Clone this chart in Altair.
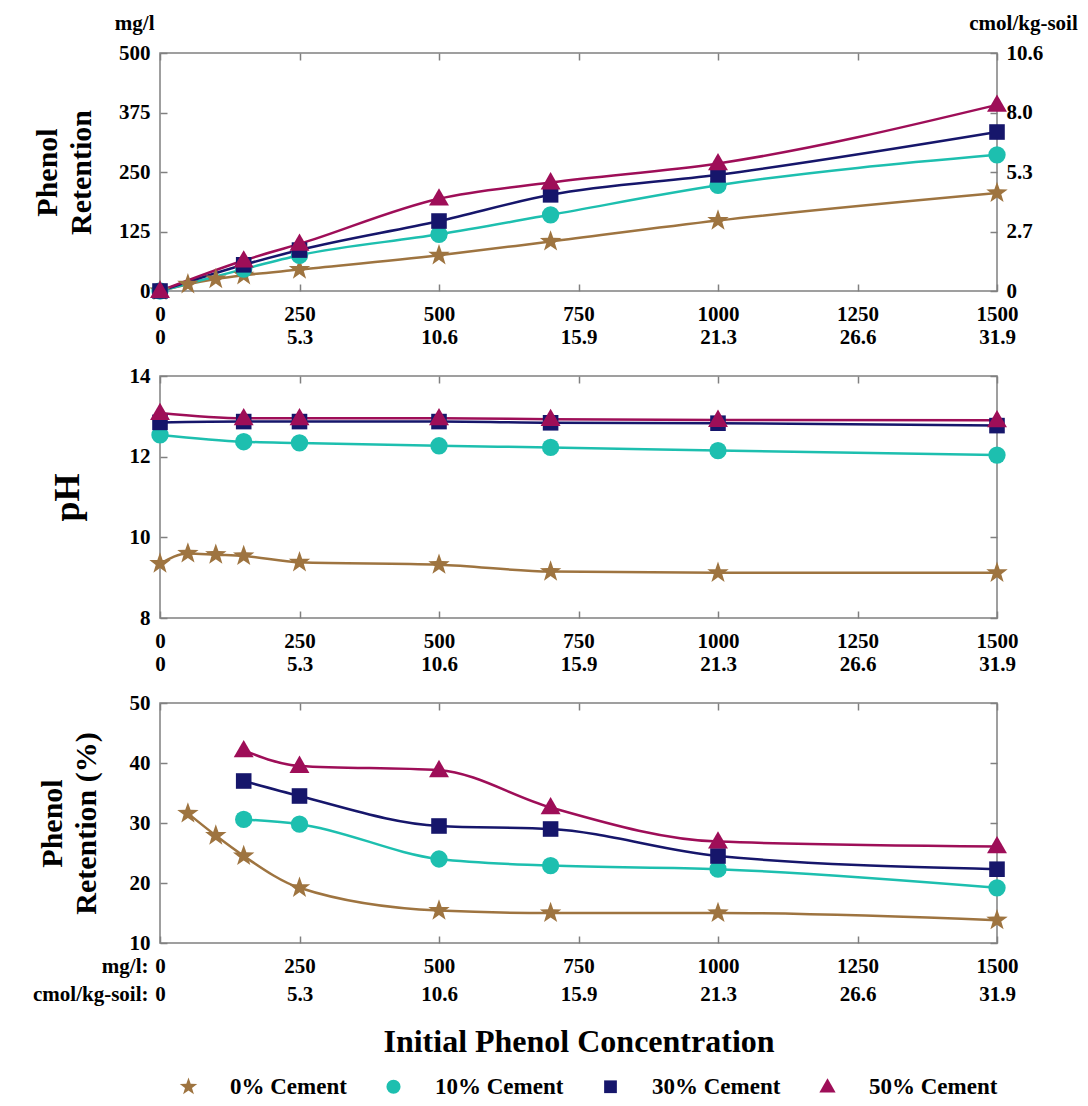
import altair as alt
import pandas as pd

# ---------------- data ----------------
series = ["0% Cement", "10% Cement", "30% Cement", "50% Cement"]
colors = ["#9E7440", "#1DBFAF", "#16166B", "#9E0E58"]
# custom symbol paths (unit box about -1..1) so every marker gets the right relative size
STAR = ("M0,-1.3L0.306,-0.421L1.236,-0.402L0.494,0.161L0.764,1.052L0,0.52"
        "L-0.764,1.052L-0.494,0.161L-1.236,-0.402L-0.306,-0.421Z")
SQUARE = "M-0.9,-0.9L0.9,-0.9L0.9,0.9L-0.9,0.9Z"
TRIANGLE = "M0,-1.2L1.15,0.8L-1.15,0.8Z"
shapes = [STAR, "circle", SQUARE, TRIANGLE]

conc_star = [0, 50, 100, 150, 250, 500, 700, 1000, 1500]
conc_other = [0, 150, 250, 500, 700, 1000, 1500]

# Phenol retention (mg/l)
ret_0 = [0, 14, 25, 33, 45, 75, 104, 148, 206]
ret_10 = [0, 46, 75, 119, 160, 222, 286]
ret_30 = [0, 55, 86, 147, 202, 244, 334]
ret_50 = [0, 64, 99, 194, 228, 268, 391]

# pH
ph_0 = [9.35, 9.60, 9.57, 9.54, 9.38, 9.32, 9.15, 9.12, 9.12]
ph_10 = [12.54, 12.37, 12.34, 12.27, 12.23, 12.15, 12.04]
ph_30 = [12.85, 12.87, 12.87, 12.87, 12.84, 12.83, 12.77]
ph_50 = [13.08, 12.95, 12.95, 12.95, 12.93, 12.91, 12.90]

# Phenol retention (%)
pct_conc_star = [50, 100, 150, 250, 500, 700, 1000, 1500]
pct_conc_other = [150, 250, 500, 700, 1000, 1500]
pct_0 = [31.6, 27.9, 24.5, 19.2, 15.4, 15.0, 15.0, 13.8]
pct_10 = [30.6, 29.8, 24.0, 22.9, 22.3, 19.2]
pct_30 = [37.0, 34.5, 29.5, 29.0, 24.5, 22.3]
pct_50 = [42.1, 39.5, 38.8, 32.6, 26.9, 26.1]

# ticks
x_ticks = [0, 250, 500, 750, 1000, 1250, 1500]
x_ticks_cmol = ["0", "5.3", "10.6", "15.9", "21.3", "26.6", "31.9"]
ret_ticks = [0, 125, 250, 375, 500]
ret_ticks_cmol = ["0", "2.7", "5.3", "8.0", "10.6"]
ph_ticks = [8, 10, 12, 14]
pct_ticks = [10, 20, 30, 40, 50]

# ---------------- style ----------------
W = 837
FONT = "Liberation Serif"
AXC = "#808080"
TICK = 21
LPAD = 12


def make_df(xs_star, xs_other, v0, v10, v30, v50):
    rows = []
    for s, xs, vs in zip(series, [xs_star, xs_other, xs_other, xs_other], [v0, v10, v30, v50]):
        for x, v in zip(xs, vs):
            rows.append({"conc": x, "value": v, "series": s})
    return pd.DataFrame(rows)


def lookup_expr(keys, labels):
    expr = "''"
    for k, lab in reversed(list(zip(keys, labels))):
        expr = "(datum.value == %s ? '%s' : %s)" % (k, lab, expr)
    return expr


x_label_expr = "[datum.label, %s]" % lookup_expr(x_ticks, x_ticks_cmol)
y_right_expr = lookup_expr(ret_ticks, ret_ticks_cmol)

# legend position is relative to the top-left corner of the first plot area
legend = alt.Legend(
    title=None, orient="none", direction="horizontal", columns=4,
    legendX=17, legendY=1022,
    labelFont=FONT, labelFontSize=23, labelFontWeight="bold", labelColor="black",
    symbolSize=200, symbolStrokeWidth=0, labelOffset=30, columnPadding=35,
)

tick_kw = dict(labels=False, domain=False, ticks=True, tickSize=7, tickColor=AXC,
               tickWidth=1.5, grid=False)


def panel(df, h, ydomain, yticks, ytitle, ytitle_pad, ytitle_size=30,
          xtitle=None, line_h=23, unit_left=None, right_axis=False, prefix=False):
    xs = alt.Scale(domain=[0, 1500], nice=False, zero=False)
    ys = alt.Scale(domain=ydomain, nice=False, zero=False)
    base = alt.Chart(df)

    x_kw = dict(values=x_ticks, format="d", labelExpr=x_label_expr, labelLineHeight=line_h,
                ticks=False, tickSize=0, domain=False, grid=False, labelPadding=LPAD,
                labelFont=FONT, labelFontSize=TICK, labelFontWeight="bold",
                labelColor="black", labelOverlap=False, labelFlush=False)
    if xtitle:
        x_kw.update(title=xtitle, titleFont=FONT, titleFontSize=32, titleFontWeight="bold",
                    titleColor="black", titlePadding=22)
    else:
        x_kw.update(title="")
    x_main = alt.X("conc:Q", scale=xs, axis=alt.Axis(**x_kw))
    y_main = alt.Y("value:Q", scale=ys, axis=alt.Axis(
        values=yticks, ticks=False, tickSize=0, domain=False, grid=False, labelPadding=10,
        labelFont=FONT, labelFontSize=TICK, labelFontWeight="bold", labelColor="black",
        labelFlush=False, labelOverlap=False,
        title=ytitle, titleFont=FONT, titleFontSize=ytitle_size, titleFontWeight="bold",
        titleColor="black", titlePadding=ytitle_pad, titleLineHeight=34))

    color = alt.Color("series:N", scale=alt.Scale(domain=series, range=colors), legend=legend)
    shape = alt.Shape("series:N", scale=alt.Scale(domain=series, range=shapes), legend=legend)

    # one smooth line per series (constant colour, so no extra legend is created)
    line_layers = []
    for s, c in zip(series, colors):
        line_layers.append(
            base.transform_filter(alt.datum.series == s)
            .mark_line(interpolate="monotone", strokeWidth=2.5, color=c)
            .encode(x=alt.X("conc:Q", scale=xs, axis=None),
                    y=alt.Y("value:Q", scale=ys, axis=None)))

    pts = base.mark_point(filled=True, opacity=1, size=300).encode(
        x=x_main, y=y_main, color=color, shape=shape)

    # inward ticks on the bottom and left edges
    t1_x_kw = dict(tick_kw)
    if prefix:
        t1_x_kw.update(title=["mg/l:", "cmol/kg-soil:"], titleX=-12, titleY=LPAD,
                       titleAngle=0, titleAlign="right", titleBaseline="top",
                       titleLineHeight=line_h, titleFont=FONT, titleFontSize=TICK,
                       titleFontWeight="bold", titleColor="black")
    else:
        t1_x_kw.update(title="")
    t1_y_kw = dict(tick_kw)
    if unit_left:
        t1_y_kw.update(title=unit_left, titleX=-6, titleY=-30, titleAngle=0,
                       titleAlign="right", titleBaseline="middle", titleFont=FONT,
                       titleFontSize=TICK, titleFontWeight="bold", titleColor="black")
    else:
        t1_y_kw.update(title="")
    t1 = base.mark_point(opacity=0).encode(
        x=alt.X("conc:Q", scale=xs, axis=alt.Axis(orient="top", offset=-h, values=x_ticks, **t1_x_kw)),
        y=alt.Y("value:Q", scale=ys, axis=alt.Axis(orient="right", offset=-W, values=yticks, **t1_y_kw)))
    # inward ticks on the top and right edges
    t2 = base.mark_point(opacity=0).encode(
        x=alt.X("conc:Q", scale=xs, axis=alt.Axis(orient="bottom", offset=-h, values=x_ticks, title="", **tick_kw)),
        y=alt.Y("value:Q", scale=ys, axis=alt.Axis(orient="left", offset=-W, values=yticks, title="", **tick_kw)))
    layers = line_layers + [pts, t1, t2]
    if right_axis:
        t3 = base.mark_point(opacity=0).encode(
            x=alt.X("conc:Q", scale=xs, axis=None),
            y=alt.Y("value:Q", scale=ys, axis=alt.Axis(
                orient="right", values=yticks, labelExpr=y_right_expr, ticks=False, tickSize=0,
                domain=False, grid=False, labelPadding=9, labelFont=FONT, labelFontSize=TICK,
                labelFontWeight="bold", labelColor="black", labelFlush=False, labelOverlap=False,
                title="cmol/kg-soil", titleAngle=0, titleX=26, titleY=-30, titleAlign="center",
                titleBaseline="middle", titleFont=FONT, titleFontSize=TICK,
                titleFontWeight="bold", titleColor="black")))
        layers.append(t3)
    return alt.layer(*layers).resolve_scale(x="independent", y="independent").properties(
        width=W, height=h)


df1 = make_df(conc_star, conc_other, ret_0, ret_10, ret_30, ret_50)
df2 = make_df(conc_star, conc_other, ph_0, ph_10, ph_30, ph_50)
df3 = make_df(pct_conc_star, pct_conc_other, pct_0, pct_10, pct_30, pct_50)

p1 = panel(df1, 238, [0, 500], ret_ticks, ["Phenol", "Retention"], 22,
           unit_left="mg/l", right_axis=True)
p2 = panel(df2, 242, [8, 14], ph_ticks, "pH", 43, ytitle_size=36)
p3 = panel(df3, 240, [10, 50], pct_ticks, ["Phenol", "Retention (%)"], 28,
           xtitle="Initial Phenol Concentration", line_h=28, prefix=True)

chart = alt.vconcat(p1, p2, p3, spacing=85, bounds="flush").configure_view(
    stroke=AXC, strokeWidth=1.5
).properties(background="white", padding={"left": 23, "top": 3, "right": 0, "bottom": 0})

chart.save("out.html", embed_options={"renderer": "svg", "actions": False})
